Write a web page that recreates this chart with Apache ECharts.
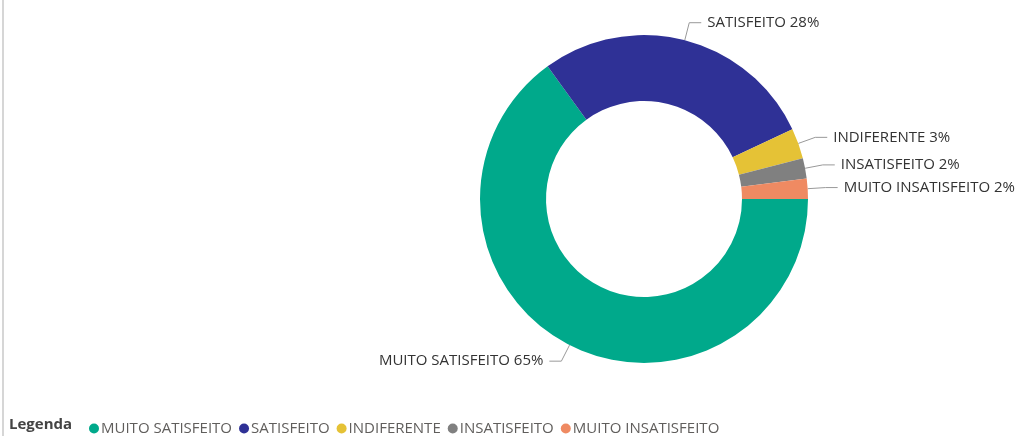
<!DOCTYPE html>
<html>
<head>
<meta charset="utf-8">
<script src="https://cdn.jsdelivr.net/npm/echarts@6/dist/echarts.min.js"></script>
<style>
html,body{margin:0;padding:0;background:#fff;}
#chart{width:1021px;height:436px;}
</style>
</head>
<body>
<div id="chart"></div>
<script>
const categories = ['MUITO SATISFEITO', 'SATISFEITO', 'INDIFERENTE', 'INSATISFEITO', 'MUITO INSATISFEITO'];
const values = [65, 28, 3, 2, 2];
const colors = ['#00a98b', '#2f3196', '#e5c236', '#808080', '#ef8a62'];

const chart = echarts.init(document.getElementById('chart'), null, {renderer: 'canvas'});
const FONT = '"Open Sans", "Noto Sans", sans-serif';

chart.setOption({
  animation: false,
  color: colors,
  graphic: [
    {type: 'rect', shape: {x: 2, y: 0, width: 2, height: 436}, style: {fill: '#d6d6d6'}},
    {type: 'text', left: 9, top: 417, style: {text: 'Legenda', fontFamily: FONT, fontSize: 15, fontWeight: 'bold', fill: '#444'}}
  ],
  legend: {
    left: 84,
    top: 416,
    icon: 'circle',
    itemWidth: 10,
    itemHeight: 10,
    itemGap: 7,
    textStyle: {fontFamily: FONT, fontSize: 15, color: '#605e5c', padding: [0, 0, 0, -3]},
    data: categories
  },
  series: [{
    type: 'pie',
    center: [644, 199],
    radius: [98, 164],
    startAngle: 0,
    clockwise: true,
    avoidLabelOverlap: true,
    data: categories.map((c, i) => ({name: c, value: values[i]})),
    label: {
      show: true,
      position: 'outer',
      alignTo: 'none',
      bleedMargin: 0,
      distanceToLabelLine: 6,
      fontFamily: FONT,
      fontSize: 15,
      color: '#333',
      formatter: p => p.name + ' ' + Math.round(p.percent) + '%'
    },
    labelLine: {
      show: true,
      length: 18,
      length2: 12,
      lineStyle: {color: '#999', width: 1}
    },
    emphasis: {disabled: true}
  }]
});
</script>
</body>
</html>
